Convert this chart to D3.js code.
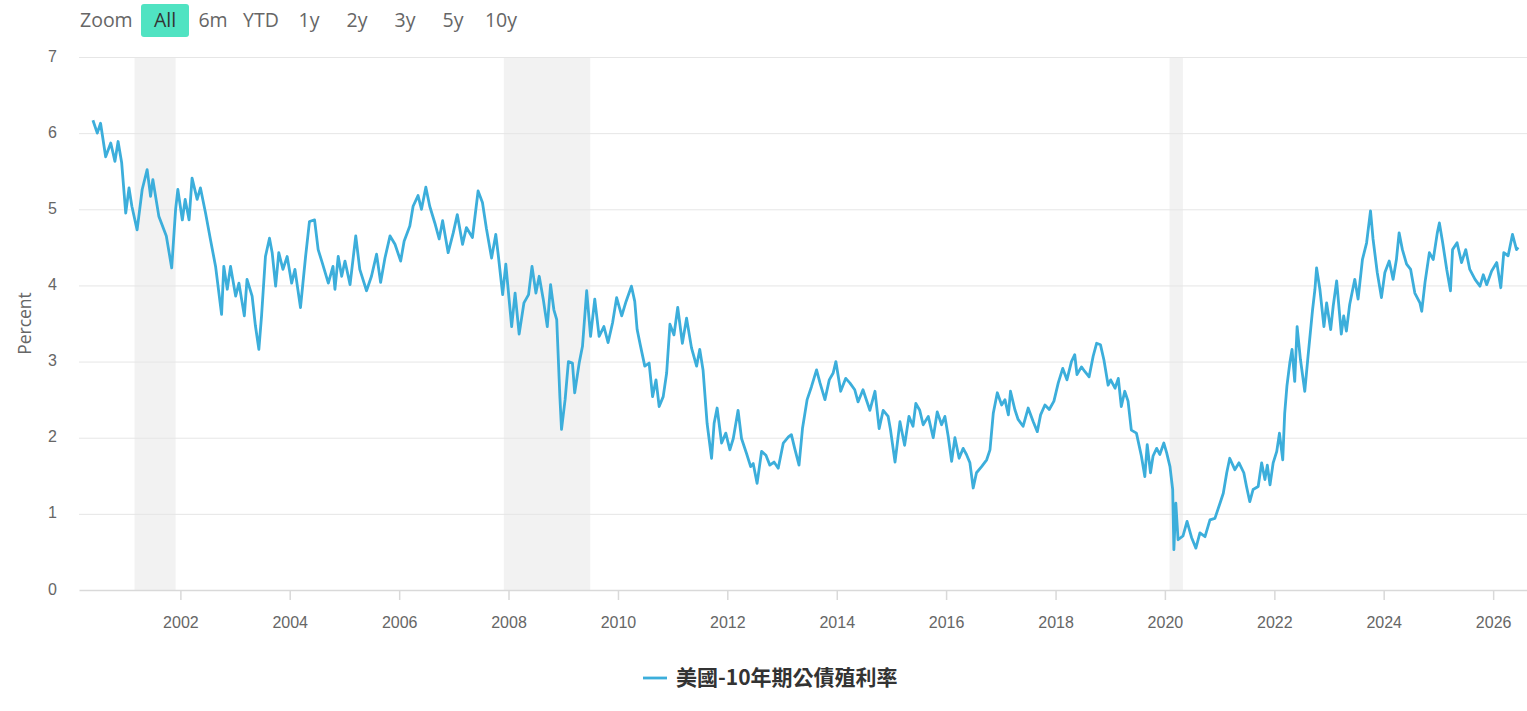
<!DOCTYPE html>
<html>
<head>
<meta charset="utf-8">
<script src="https://cdn.jsdelivr.net/npm/d3@7"></script>
<style>
    body { margin: 0; background: #ffffff; }
    svg { display: block; font-family: "Open Sans", "Noto Sans", sans-serif; }
    .grid line { stroke: #e6e6e6; }
    .grid path { display: none; }
    .axis text { fill: #666666; font-size: 16px; }
    .zoombtn { fill: #666666; font-size: 19.5px; }
</style>
</head>
<body>
<div id="chart"></div>
<script>
/* DATA */
var dates = [
    "2000-05-27","2000-06-25","2000-07-17","2000-08-20","2000-09-23","2000-10-21","2000-11-11","2000-12-05",
    "2001-01-01","2001-01-23","2001-02-11","2001-03-18","2001-04-21","2001-05-24","2001-06-16","2001-07-01",
    "2001-08-10","2001-09-29","2001-11-04","2001-11-30","2001-12-15","2002-01-14","2002-02-02","2002-02-28",
    "2002-03-20","2002-04-23","2002-05-15","2002-06-18","2002-07-21","2002-08-24","2002-10-03","2002-10-18",
    "2002-11-10","2002-12-02","2003-01-05","2003-01-27","2003-03-04","2003-03-22","2003-04-25","2003-05-17",
    "2003-06-09","2003-06-27","2003-07-23","2003-08-19","2003-09-06","2003-09-29","2003-10-20","2003-11-17",
    "2003-12-15","2004-01-14","2004-02-05","2004-03-13","2004-04-16","2004-05-12","2004-06-15","2004-07-09",
    "2004-08-05","2004-09-15","2004-10-16","2004-10-29","2004-11-20","2004-12-13","2005-01-04","2005-02-07",
    "2005-03-17","2005-04-13","2005-05-28","2005-06-30","2005-08-03","2005-08-30","2005-09-28","2005-11-01",
    "2005-12-04","2006-01-11","2006-02-03","2006-03-13","2006-04-04","2006-05-07","2006-05-30","2006-06-28",
    "2006-07-24","2006-08-27","2006-09-25","2006-10-18","2006-11-24","2006-12-28","2007-01-24","2007-02-28",
    "2007-03-26","2007-05-05","2007-06-12","2007-07-11","2007-08-07","2007-09-10","2007-10-08","2007-10-24",
    "2007-11-23","2007-12-14","2008-01-22","2008-02-14","2008-03-12","2008-04-13","2008-05-14","2008-06-06",
    "2008-07-02","2008-07-24","2008-08-20","2008-09-16","2008-10-08","2008-10-30","2008-11-18","2008-12-09",
    "2008-12-20","2009-01-13","2009-02-04","2009-03-03","2009-03-18","2009-04-17","2009-05-09","2009-06-06",
    "2009-07-02","2009-07-30","2009-08-28","2009-09-29","2009-10-27","2009-11-26","2009-12-23","2010-01-26",
    "2010-02-24","2010-04-01","2010-04-23","2010-05-09","2010-06-01","2010-06-29","2010-07-28","2010-08-20",
    "2010-09-12","2010-10-03","2010-10-30","2010-11-22","2010-12-14","2011-01-10","2011-02-04","2011-03-07",
    "2011-04-04","2011-05-07","2011-06-10","2011-07-01","2011-07-23","2011-08-19","2011-09-18","2011-10-05",
    "2011-10-25","2011-11-24","2011-12-22","2012-01-18","2012-02-10","2012-03-13","2012-04-05","2012-05-09",
    "2012-06-05","2012-06-22","2012-07-18","2012-08-17","2012-09-15","2012-10-11","2012-11-08","2012-12-06",
    "2013-01-09","2013-02-12","2013-03-04","2013-03-26","2013-04-24","2013-05-17","2013-06-17","2013-07-16",
    "2013-08-19","2013-09-11","2013-10-14","2013-11-12","2013-12-08","2013-12-26","2014-01-27","2014-03-02",
    "2014-03-29","2014-05-01","2014-05-23","2014-06-25","2014-08-10","2014-09-13","2014-10-11","2014-11-07",
    "2014-12-10","2014-12-26","2015-01-25","2015-02-27","2015-03-30","2015-04-28","2015-05-25","2015-06-13",
    "2015-07-09","2015-08-01","2015-09-04","2015-10-07","2015-11-03","2015-12-02","2015-12-24","2016-01-15",
    "2016-02-07","2016-02-29","2016-03-28","2016-04-24","2016-05-16","2016-06-08","2016-06-30","2016-07-22",
    "2016-08-25","2016-09-28","2016-10-20","2016-11-11","2016-12-08","2017-01-06","2017-01-28","2017-02-20",
    "2017-03-06","2017-04-04","2017-04-26","2017-05-29","2017-07-02","2017-08-05","2017-09-01","2017-09-23",
    "2017-10-22","2017-11-20","2017-12-21","2018-01-19","2018-02-18","2018-03-18","2018-04-17","2018-05-09",
    "2018-05-24","2018-06-23","2018-07-15","2018-08-13","2018-09-09","2018-10-02","2018-10-28","2018-11-20",
    "2018-12-18","2019-01-04","2019-02-02","2019-02-24","2019-03-16","2019-04-08","2019-04-30","2019-05-22",
    "2019-06-25","2019-07-28","2019-08-20","2019-09-05","2019-09-27","2019-10-14","2019-11-07","2019-11-28",
    "2019-12-25","2020-01-13","2020-02-04","2020-02-22","2020-03-01","2020-03-14","2020-03-29","2020-05-01",
    "2020-05-28","2020-06-27","2020-07-26","2020-08-22","2020-09-25","2020-10-28","2020-11-30","2021-01-03",
    "2021-01-25","2021-02-17","2021-03-09","2021-04-12","2021-05-10","2021-06-11","2021-06-29","2021-07-21",
    "2021-08-12","2021-09-15","2021-10-08","2021-10-30","2021-11-15","2021-12-03","2021-12-24","2022-01-17",
    "2022-02-04","2022-02-26","2022-03-11","2022-03-26","2022-04-14","2022-04-29","2022-05-17","2022-06-02",
    "2022-06-24","2022-07-23","2022-08-14","2022-09-13","2022-09-29","2022-10-10","2022-11-01","2022-11-28",
    "2022-12-16","2023-01-12","2023-01-29","2023-02-21","2023-03-24","2023-04-09","2023-04-27","2023-05-19",
    "2023-06-22","2023-07-14","2023-08-12","2023-09-09","2023-10-05","2023-10-22","2023-11-19","2023-12-17",
    "2024-01-09","2024-02-07","2024-03-04","2024-03-26","2024-04-13","2024-05-05","2024-06-02","2024-06-29",
    "2024-07-27","2024-08-30","2024-09-11","2024-10-03","2024-11-01","2024-11-27","2024-12-24","2025-01-07",
    "2025-01-29","2025-02-25","2025-03-22","2025-04-05","2025-05-05","2025-06-04","2025-07-02","2025-07-29",
    "2025-09-02","2025-10-05","2025-10-27","2025-11-19","2025-12-22","2026-01-25","2026-02-21","2026-03-13",
    "2026-04-11","2026-05-10","2026-06-06","2026-06-17"
];

var yields = [
    6.17, 6.00, 6.13, 5.69, 5.87, 5.63, 5.89, 5.61,
    4.95, 5.28, 5.04, 4.73, 5.26, 5.52, 5.17, 5.39,
    4.91, 4.65, 4.23, 5.00, 5.26, 4.86, 5.13, 4.86,
    5.41, 5.13, 5.28, 4.95, 4.60, 4.25, 3.62, 4.25,
    3.95, 4.25, 3.86, 4.03, 3.60, 4.08, 3.86, 3.47,
    3.16, 3.60, 4.38, 4.62, 4.43, 3.99, 4.43, 4.21,
    4.38, 4.03, 4.21, 3.71, 4.38, 4.84, 4.86, 4.47,
    4.30, 4.03, 4.25, 3.95, 4.38, 4.12, 4.32, 4.01,
    4.65, 4.21, 3.93, 4.12, 4.41, 4.04, 4.36, 4.65,
    4.54, 4.32, 4.58, 4.78, 5.04, 5.18, 5.00, 5.29,
    5.04, 4.82, 4.61, 4.85, 4.43, 4.69, 4.93, 4.54,
    4.76, 4.63, 5.24, 5.09, 4.74, 4.36, 4.67, 4.41,
    3.88, 4.28, 3.46, 3.90, 3.36, 3.77, 3.88, 4.25,
    3.90, 4.12, 3.82, 3.46, 4.01, 3.68, 3.55, 2.54,
    2.11, 2.50, 3.00, 2.98, 2.59, 2.98, 3.20, 3.93,
    3.33, 3.82, 3.33, 3.46, 3.25, 3.51, 3.84, 3.60,
    3.79, 3.99, 3.79, 3.42, 3.20, 2.94, 2.98, 2.54,
    2.76, 2.41, 2.54, 2.85, 3.49, 3.35, 3.71, 3.24,
    3.57, 3.18, 2.94, 3.16, 2.89, 2.19, 1.73, 2.19,
    2.39, 1.93, 2.06, 1.84, 1.99, 2.36, 1.99, 1.79,
    1.62, 1.66, 1.40, 1.82, 1.77, 1.64, 1.68, 1.60,
    1.93, 2.01, 2.04, 1.86, 1.64, 2.12, 2.50, 2.67,
    2.89, 2.72, 2.50, 2.76, 2.85, 3.00, 2.61, 2.78,
    2.72, 2.63, 2.47, 2.63, 2.36, 2.61, 2.12, 2.36,
    2.28, 2.10, 1.68, 2.21, 1.90, 2.28, 2.15, 2.45,
    2.36, 2.17, 2.28, 2.00, 2.34, 2.17, 2.28, 2.02,
    1.69, 2.00, 1.73, 1.86, 1.78, 1.67, 1.34, 1.54,
    1.62, 1.71, 1.84, 2.32, 2.59, 2.43, 2.50, 2.30,
    2.61, 2.37, 2.24, 2.15, 2.39, 2.21, 2.08, 2.30,
    2.43, 2.37, 2.48, 2.72, 2.91, 2.76, 3.00, 3.09,
    2.83, 2.93, 2.87, 2.80, 3.07, 3.24, 3.22, 3.02,
    2.69, 2.76, 2.65, 2.78, 2.41, 2.61, 2.48, 2.10,
    2.06, 1.76, 1.49, 1.91, 1.54, 1.76, 1.86, 1.78,
    1.93, 1.80, 1.62, 1.32, 0.53, 1.14, 0.66, 0.71,
    0.90, 0.69, 0.55, 0.75, 0.70, 0.92, 0.94, 1.14,
    1.27, 1.54, 1.73, 1.58, 1.67, 1.54, 1.36, 1.16,
    1.32, 1.36, 1.67, 1.45, 1.64, 1.38, 1.67, 1.82,
    2.06, 1.71, 2.32, 2.68, 2.98, 3.16, 2.74, 3.46,
    3.03, 2.61, 3.07, 3.68, 3.95, 4.23, 3.95, 3.46,
    3.77, 3.42, 3.73, 4.06, 3.36, 3.60, 3.40, 3.75,
    4.08, 3.82, 4.34, 4.56, 4.98, 4.61, 4.17, 3.84,
    4.17, 4.32, 4.08, 4.34, 4.69, 4.47, 4.28, 4.21,
    3.90, 3.77, 3.66, 4.04, 4.43, 4.34, 4.69, 4.82,
    4.56, 4.21, 3.93, 4.47, 4.56, 4.30, 4.47, 4.21,
    4.08, 3.99, 4.14, 4.01, 4.19, 4.30, 3.97, 4.43,
    4.39, 4.67, 4.47, 4.50
];

// shaded recession periods
var recessionStarts = ["2001-03-01", "2007-12-01", "2020-02-01"];
var recessionEnds = ["2001-11-30", "2009-06-30", "2020-04-30"];

var yTicks = [0, 1, 2, 3, 4, 5, 6, 7];
var xTickYears = [2002, 2004, 2006, 2008, 2010, 2012, 2014, 2016, 2018, 2020, 2022, 2024, 2026];
var xDomain = ["2000-02-24", "2026-08-15"];
var zoomLabels = ["All", "6m", "YTD", "1y", "2y", "3y", "5y", "10y"];
var seriesName = "美國-10年期公債殖利率";
var yTitle = "Percent";

function createLineChart() {
    var parseDate = d3.timeParse("%Y-%m-%d");

    var data = dates.map(function (d, i) {
        return { date: parseDate(d), value: yields[i] };
    });

    var w = 1527;
    var h = 711;
    var left = 79;
    var right = 1527;
    var top = 57;
    var bottom = 590;

    /* SCALES */
    var xScale = d3.scaleTime()
        .domain(xDomain.map(parseDate))
        .range([left, right]);

    var yScale = d3.scaleLinear()
        .domain([0, 7])
        .range([bottom, top]);

    /* START SVG */
    var svg = d3.select("#chart")
        .append("svg")
        .attr("width", w)
        .attr("height", h);

    /* RECESSION BANDS */
    svg.selectAll("rect.band")
        .data(recessionStarts)
        .enter()
        .append("rect")
        .attr("class", "band")
        .attr("x", d => xScale(parseDate(d)))
        .attr("y", top)
        .attr("width", (d, i) => xScale(parseDate(recessionEnds[i])) - xScale(parseDate(d)))
        .attr("height", bottom - top)
        .attr("fill", "#f2f2f2");

    /* GRIDLINES */
    svg.append("g")
        .attr("class", "grid")
        .attr("transform", "translate(" + left + ",0)")
        .call(d3.axisLeft(yScale)
            .tickValues(yTicks.slice(1))
            .tickSize(-(right - left))
            .tickFormat("")
        );

    /* Y AXIS LABELS */
    var yAxis = svg.append("g")
        .attr("class", "axis")
        .attr("transform", "translate(" + (left - 20) + ",0)")
        .call(d3.axisLeft(yScale)
            .tickValues(yTicks)
            .tickFormat(d3.format("d"))
            .tickSize(0)
            .tickPadding(2));
    yAxis.select(".domain").remove();
    yAxis.selectAll("text").attr("dy", "0.25em");

    svg.append("text")
        .attr("transform", "translate(31," + ((top + bottom) / 2) + ") rotate(-90)")
        .style("text-anchor", "middle")
        .style("fill", "#666666")
        .style("font-size", "17.5px")
        .text(yTitle);

    /* X AXIS */
    var xAxis = svg.append("g")
        .attr("class", "axis")
        .attr("transform", "translate(0," + bottom + ")")
        .call(d3.axisBottom(xScale)
            .tickValues(xTickYears.map(y => new Date(y, 0, 1)))
            .tickFormat(d3.timeFormat("%Y"))
            .tickSize(10)
            .tickSizeOuter(0)
            .tickPadding(17)
        );
    xAxis.select(".domain").attr("stroke", "#d9d9d9").attr("stroke-width", 1.5);
    xAxis.selectAll(".tick line").attr("stroke", "#d9d9d9").attr("stroke-width", 1.5);

    /* DRAW LINE */
    var line = d3.line()
        .x(d => xScale(d.date))
        .y(d => yScale(d.value));

    svg.append("path")
        .datum(data)
        .attr("d", line)
        .attr("fill", "none")
        .attr("stroke", "#3caedb")
        .attr("stroke-width", 2.8)
        .attr("stroke-linejoin", "round");

    /* ZOOM BUTTONS */
    svg.append("text")
        .attr("class", "zoombtn")
        .attr("x", 80)
        .attr("y", 27)
        .text("Zoom");

    var btnX = d3.scaleBand()
        .domain(zoomLabels)
        .range([141, 141 + 48 * zoomLabels.length]);

    svg.append("rect")
        .attr("x", btnX("All"))
        .attr("y", 4)
        .attr("width", btnX.bandwidth())
        .attr("height", 33)
        .attr("rx", 3)
        .attr("fill", "#50e3c2");

    svg.selectAll("text.btn")
        .data(zoomLabels)
        .enter()
        .append("text")
        .attr("class", "zoombtn btn")
        .attr("x", d => btnX(d) + btnX.bandwidth() / 2)
        .attr("y", 27)
        .style("text-anchor", "middle")
        .style("fill", d => d === "All" ? "#333333" : "#666666")
        .text(d => d);

    /* LEGEND */
    svg.append("line")
        .attr("x1", 643)
        .attr("x2", 667)
        .attr("y1", 678)
        .attr("y2", 678)
        .attr("stroke", "#3caedb")
        .attr("stroke-width", 2.8);

    svg.append("text")
        .attr("x", 676)
        .attr("y", 685)
        .style("font-family", "'Noto Sans CJK TC', 'Noto Sans', sans-serif")
        .style("font-size", "21px")
        .style("font-weight", "bold")
        .style("fill", "#333333")
        .text(seriesName);
}

function main() {
    createLineChart();
}

main()
</script>
</body>
</html>
